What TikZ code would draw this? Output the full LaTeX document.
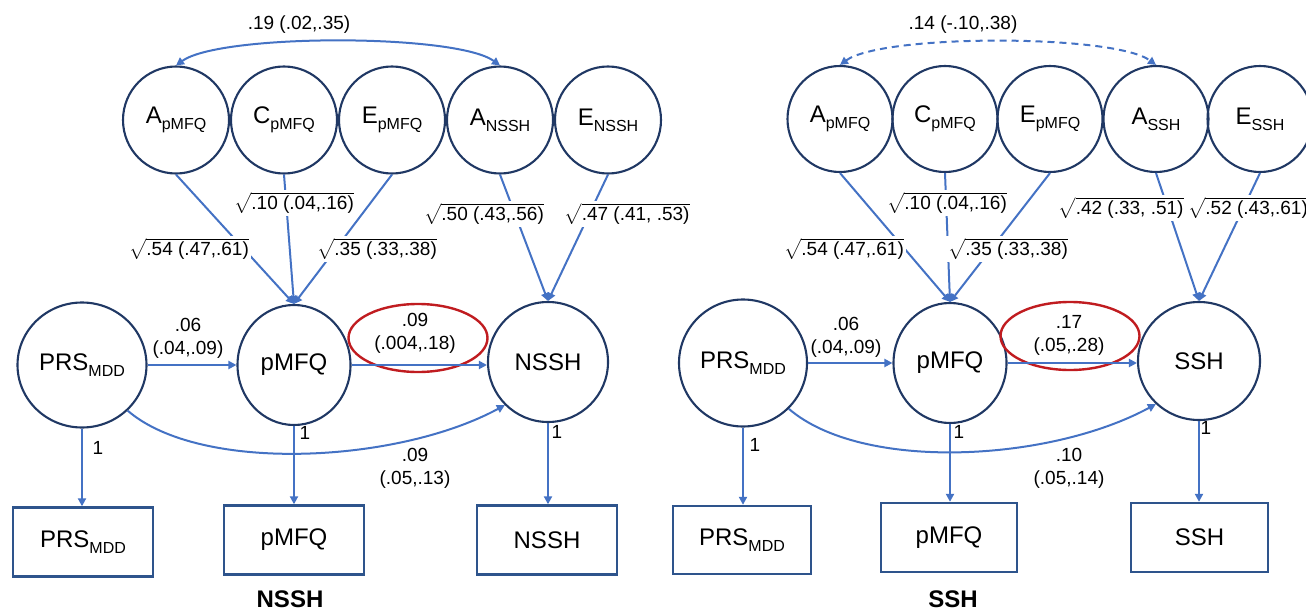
\documentclass[tikz,border=0pt]{standalone}
\usepackage{amsmath}
\usepackage{fontspec}
\setmainfont{Liberation Sans}
\usetikzlibrary{arrows.meta,shapes.geometric}
\definecolor{navy}{RGB}{32,56,100}
\definecolor{arrblue}{RGB}{68,114,196}
\definecolor{boxblue}{RGB}{46,84,140}
\definecolor{ovred}{RGB}{192,28,32}
\newcommand{\lsub}[1]{\raisebox{-6pt}{\fontsize{16}{16}\selectfont #1}}
\newcommand{\rootlbl}[1]{$\sqrt{\mbox{#1}}$}
\begin{document}
\begin{tikzpicture}[x=1pt,y=-1pt,
  lat/.style={ellipse, draw=navy, line width=2.1pt, inner sep=0pt, font=\fontsize{24}{28}\selectfont},
  acec/.style={lat, minimum width=106pt, minimum height=107pt},
  acer/.style={lat, minimum width=105pt, minimum height=106pt},
  obs/.style={rectangle, draw=boxblue, line width=2.4pt, inner sep=0pt, minimum width=139pt, minimum height=69pt, font=\fontsize{24}{28}\selectfont},
  conn/.style={draw=arrblue, line width=2pt, -{Triangle[length=8pt,width=8pt]}},
  biconn/.style={draw=arrblue, line width=2pt, {Triangle[length=8pt,width=8pt]}-{Triangle[length=8pt,width=8pt]}},
  lbl/.style={font=\fontsize{19}{23}\selectfont, inner sep=1pt, align=center},
  wlbl/.style={lbl, fill=white, inner sep=2pt},
  oval/.style={ellipse, draw=ovred, line width=2.4pt, minimum width=139pt, minimum height=68pt},
  ttl/.style={font=\fontsize{24}{28}\selectfont\bfseries, anchor=base}
]
\useasboundingbox (0,0) rectangle (1306,615);

%% ================= LEFT PANEL (NSSH) =================
\node[acec] (LA1) at (176,120) {A\lsub{pMFQ}};
\node[acec] (LC1) at (284,120) {C\lsub{pMFQ}};
\node[acec] (LE1) at (392,120) {E\lsub{pMFQ}};
\node[acec] (LA2) at (500,120) {A\lsub{NSSH}};
\node[acec] (LE2) at (608,120) {E\lsub{NSSH}};

\node[lat, minimum width=129pt, minimum height=125pt] (LP) at (82,365) {PRS\lsub{MDD}};
\node[lat, minimum width=113pt, minimum height=120pt] (LM) at (294,365) {pMFQ};
\node[lat, minimum width=120pt, minimum height=120pt] (LN) at (548,362) {NSSH};

\node[obs, minimum width=140pt] (LPb) at (83,542) {PRS\lsub{MDD}};
\node[obs, minimum width=140pt] (LMb) at (294,540) {pMFQ};
\node[obs, minimum width=140pt] (LNb) at (547,540) {NSSH};

\draw[biconn] (LA1.north) .. controls +(44,-32) and +(-44,-32) .. (LA2.north);
\node[lbl] (Lcor) at (299,25) {.19 (.02,.35)};

\draw[conn] (LA1.south) -- (LM.north);
\draw[conn] (LC1.south) -- (LM.north);
\draw[conn] (LE1.south) -- (LM.north);
\draw[conn] (LA2.south) -- (LN.north);
\draw[conn] (LE2.south) -- (LN.north);

\node[wlbl] (Lr1) at (189,249) {\rootlbl{.54 (.47,.61)}};
\node[wlbl] (Lr2) at (294,203) {\rootlbl{.10 (.04,.16)}};
\node[wlbl] (Lr3) at (377,249) {\rootlbl{.35 (.33,.38)}};
\node[wlbl] (Lr4) at (484,214) {\rootlbl{.50 (.43,.56)}};
\node[wlbl] (Lr5) at (627,214) {\rootlbl{.47 (.41, .53)}};

\node[oval] (Lov) at (418,338) {};
\draw[conn] (LP.east) -- (LM.west);
\draw[conn] (LM.east) -- (LM.east -| LN.west);
\draw[conn] (LP.-45) .. controls +(73,63) and +(-107,58) .. (LN.-135);

\node[lbl] (Lb1) at (188,338) {.06\\(.04,.09)};
\node[lbl] (Lb2) at (415,333) {.09\\(.004,.18)};
\node[lbl] (Lb3) at (415,468) {.09\\(.05,.13)};

\draw[conn] (LP.south) -- (LP.south |- LPb.north);
\draw[conn] (LM.south) -- (LM.south |- LMb.north);
\draw[conn] (LN.south) -- (LN.south |- LNb.north);
\node[lbl] (L1a) at (98,448) {1};
\node[lbl] (L1b) at (305,433) {1};
\node[lbl] (L1c) at (557,432) {1};

\node[ttl] (Lttl) at (290,607) {NSSH};

%% ================= RIGHT PANEL (SSH) =================
\node[acer] (RA1) at (840,119) {A\lsub{pMFQ}};
\node[acer] (RC1) at (945,119) {C\lsub{pMFQ}};
\node[acer] (RE1) at (1050,119) {E\lsub{pMFQ}};
\node[acer] (RA2) at (1156,119) {A\lsub{SSH}};
\node[acer] (RE2) at (1260,119) {E\lsub{SSH}};

\node[lat, minimum width=128pt, minimum height=127pt] (RP) at (743,363) {PRS\lsub{MDD}};
\node[lat, minimum width=113pt, minimum height=120pt] (RM) at (950,363) {pMFQ};
\node[lat, minimum width=122pt, minimum height=118pt] (RS) at (1199,361) {SSH};

\node[obs, minimum width=138pt, minimum height=68pt] (RPb) at (742,540) {PRS\lsub{MDD}};
\node[obs, minimum width=136pt] (RMb) at (949,537.5) {pMFQ};
\node[obs, minimum width=137pt] (RSb) at (1199.5,537.5) {SSH};

\draw[biconn, dash pattern=on 7pt off 5pt] (RA1.north) .. controls +(42,-31) and +(-42,-31) .. (RA2.north);
\node[lbl] (Rcor) at (963,25) {.14 (-.10,.38)};

\draw[conn] (RA1.south) -- (RM.north);
\draw[conn] (RC1.south) -- (RM.north);
\draw[conn] (RE1.south) -- (RM.north);
\draw[conn] (RA2.south) -- (RS.north);
\draw[conn] (RE2.south) -- (RS.north);

\node[wlbl] (Rr1) at (844,249) {\rootlbl{.54 (.47,.61)}};
\node[wlbl] (Rr2) at (947,203) {\rootlbl{.10 (.04,.16)}};
\node[wlbl] (Rr3) at (1008,249) {\rootlbl{.35 (.33,.38)}};
\node[wlbl] (Rr4) at (1121,208) {\rootlbl{.42 (.33, .51)}};
\node[wlbl] (Rr5) at (1248,208) {\rootlbl{.52 (.43,.61)}};

\node[oval] (Rov) at (1070,336) {};
\draw[conn] (RP.east) -- (RM.west);
\draw[conn] (RM.east) -- (RM.east -| RS.west);
\draw[conn] (RP.-45) .. controls +(73,63) and +(-107,58) .. (RS.-135);

\node[lbl] (Rb1) at (846,337) {.06\\(.04,.09)};
\node[lbl] (Rb2) at (1069,335) {.17\\(.05,.28)};
\node[lbl] (Rb3) at (1069,468) {.10\\(.05,.14)};

\draw[conn] (RP.south) -- (RP.south |- RPb.north);
\draw[conn] (RM.south) -- (RM.south |- RMb.north);
\draw[conn] (RS.south) -- (RS.south |- RSb.north);
\node[lbl] (R1a) at (755,445) {1};
\node[lbl] (R1b) at (959,432) {1};
\node[lbl] (R1c) at (1206,428) {1};

\node[ttl] (Rttl) at (953,607) {SSH};
\end{tikzpicture}
\end{document}
